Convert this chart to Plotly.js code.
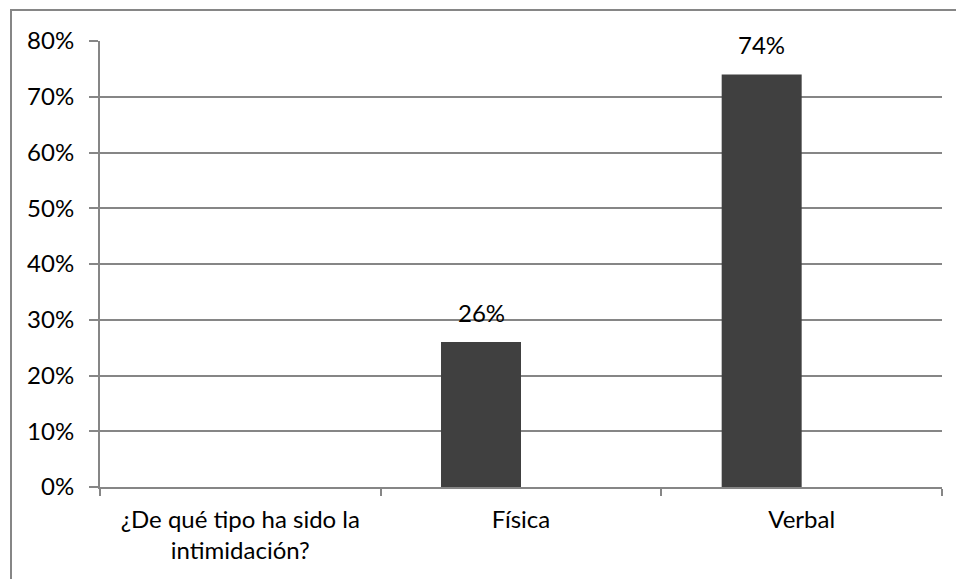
<!DOCTYPE html>
<html><head><meta charset="utf-8">
<script src="https://cdn.plot.ly/plotly-3.0.1.min.js"></script>
<style>html,body{margin:0;padding:0;background:#fff;}#chart{width:956px;height:579px;}</style>
</head><body><div id="chart"></div>
<script>
const categories = ["¿De qué tipo ha sido la<br>intimidación?", "Física", "Verbal"];
const values = [null, 0.26, 0.74];
const emptySeries = [null, null, null];
const valueLabels = ["", "26%", "74%"];
const yTicks = [0, 0.1, 0.2, 0.3, 0.4, 0.5, 0.6, 0.7, 0.8];

const font = {family: "Lato, 'Open Sans', sans-serif", size: 24, color: "#000"};

const annotations = [];
categories.forEach((c, i) => {
  if (values[i] != null) {
    annotations.push({x: i, y: values[i], xref: "x", yref: "y", text: valueLabels[i],
      showarrow: false, yanchor: "bottom", xshift: -40, yshift: 13, font: font});
  }
});

Plotly.newPlot("chart", [
  {type: "bar", x: categories, y: values, marker: {color: "#404040"}, hoverinfo: "none"},
  {type: "bar", x: categories, y: emptySeries, marker: {color: "#808080"}, hoverinfo: "none"}
], {
  width: 956, height: 579,
  margin: {l: 100, r: 14, t: 41, b: 92},
  paper_bgcolor: "#fff", plot_bgcolor: "#fff",
  barmode: "group", bargap: 0.43, bargroupgap: 0,
  font: font,
  showlegend: false,
  xaxis: {
    type: "category", showline: true, linecolor: "#868686", linewidth: 2,
    ticks: "outside", tickson: "boundaries", ticklen: 7, tickcolor: "#868686", tickwidth: 2,
    showgrid: false, tickfont: font, ticklabelstandoff: 10, fixedrange: true
  },
  yaxis: {
    range: [0, 0.8], tickvals: yTicks, tickformat: ".0%",
    showline: true, linecolor: "#868686", linewidth: 2,
    ticks: "outside", ticklen: 9, tickcolor: "#868686", tickwidth: 2,
    showgrid: true, gridcolor: "#868686", gridwidth: 2, zeroline: false,
    tickfont: font, ticklabelstandoff: 10, fixedrange: true
  },
  annotations: annotations,
  shapes: [{type: "rect", xref: "paper", yref: "paper",
    x0: -89/842, x1: 1.2, y0: -0.5, y1: 1 + 31/446,
    line: {color: "#868686", width: 2}, fillcolor: "rgba(0,0,0,0)", layer: "below"}]
}, {staticPlot: true});
</script></body></html>
